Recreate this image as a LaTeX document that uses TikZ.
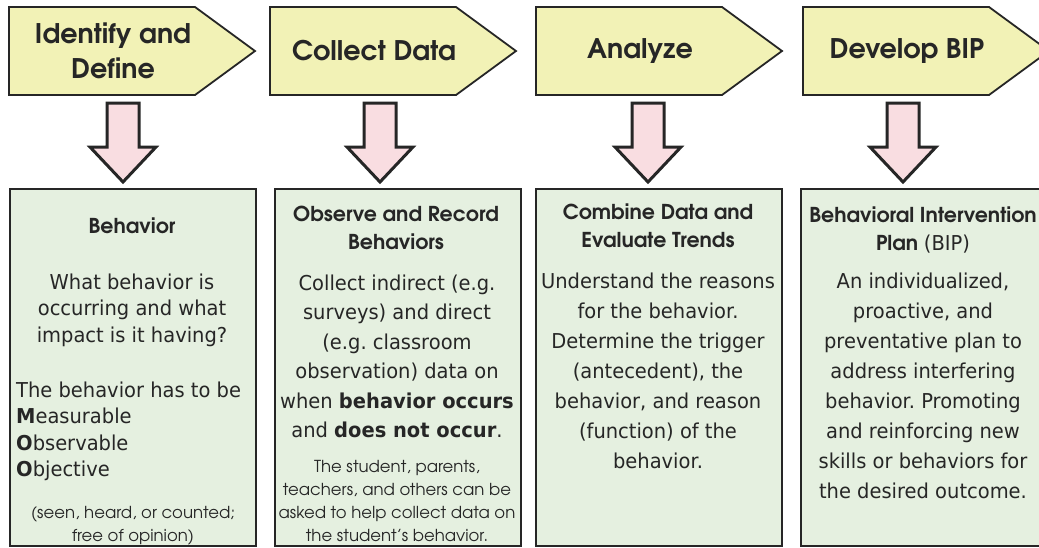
\documentclass[tikz,border=0pt]{standalone}
\usepackage{fontspec}
\setmainfont{DejaVu Sans}[FakeStretch=0.95]
\newfontfamily\gothic{TeX Gyre Adventor}
\frenchspacing
\definecolor{chevfill}{HTML}{F2F2B6}
\definecolor{boxfill}{HTML}{E5F0E0}
\definecolor{arrfill}{HTML}{F9DDE1}
\definecolor{ink}{HTML}{262626}
\tikzset{
  chev/.style={draw=ink, line width=1.8pt, fill=chevfill},
  downarr/.style={draw=ink, line width=3pt, fill=arrfill, line join=miter},
  stepbox/.style={draw=ink, line width=2pt, fill=boxfill, minimum width=246pt,
    minimum height=357pt, anchor=north west, inner sep=0pt},
  title/.style={font=\gothic\bfseries\fontsize{27}{35}\selectfont, align=center, text=ink},
  head/.style={font=\gothic\bfseries\fontsize{20.5}{28}\selectfont, align=center, anchor=base, inner sep=0pt, text=ink},
  body/.style={font=\fontsize{20.5}{30}\selectfont, align=center, anchor=base, inner sep=0pt, text=ink},
  small/.style={font=\gothic\fontsize{16.5}{23}\selectfont, align=center, anchor=base, inner sep=0pt, text=ink},
}
\begin{document}
\begin{tikzpicture}[x=1pt,y=-1pt]
  \useasboundingbox (0,0) rectangle (1039,547);
  % steps
  \foreach \x/\txt [count=\i] in {9/{Identify and\\Define}, 270/{Collect Data}, 536/{Analyze}, 803/{Develop BIP}} {
    \draw[chev] (\x,7) -- ++(186,0) -- ++(60,44) -- ++(-60,44) -- ++(-186,0) -- cycle;
    \node[title] (t\i) at (\x+104,51) {\txt};
  }
  % boxes
  \node[stepbox] (b1) at (9,188) {};
  \node[stepbox] (b2) at (274,188) {};
  \node[stepbox] (b3) at (535,188) {};
  \node[stepbox] (b4) at (800,188) {};
  % down arrows
  \foreach \x in {123,380,648,903} {
    \draw[downarr] (\x-16,103) -- (\x+16,103) -- (\x+16,147) -- (\x+33,147) -- (\x,182)
      -- (\x-33,147) -- (\x-16,147) -- cycle;
  }
  % box texts (anchor base = last line)
  \node[head] (h1) at (132,233) {Behavior};
  \node[body, font=\fontsize{20.5}{26.5}\selectfont] (p1) at (132,342) {What behavior is\\occurring and what\\impact is it having?};
  \node[body, font=\fontsize{20.5}{26.5}\selectfont, anchor=base west, align=left] (m1) at (16,476.5)
    {The behavior has to be\\\textbf{M}easurable\\\textbf{O}bservable\\\textbf{O}bjective};
  \node[small] (s1) at (133,541) {(seen, heard, or counted;\\free of opinion)};

  \node[head] (h2) at (396,249) {Observe and Record\\Behaviors};
  \node[body, font=\fontsize{20.5}{29.5}\selectfont] (p2) at (397,437.5) {Collect indirect (e.g.\\surveys) and direct\\(e.g. classroom\\observation) data on\\when \textbf{behavior occurs}\\and \textbf{does not occur}.};
  \node[small] (s2) at (397,541) {The student, parents,\\teachers, and others can be\\asked to help collect data on\\the student’s behavior.};

  \node[head] (h3) at (658,247) {Combine Data and\\Evaluate Trends};
  \node[body] (p3) at (658,468) {Understand the reasons\\for the behavior.\\Determine the trigger\\(antecedent), the\\behavior, and reason\\(function) of the\\behavior.};

  \node[head] (h4) at (923,250) {Behavioral Intervention\\Plan {\normalfont(BIP)}};
  \node[body] (p4) at (923,498) {An individualized,\\proactive, and\\preventative plan to\\address interfering\\behavior. Promoting\\and reinforcing new\\skills or behaviors for\\the desired outcome.};
\end{tikzpicture}
\end{document}
